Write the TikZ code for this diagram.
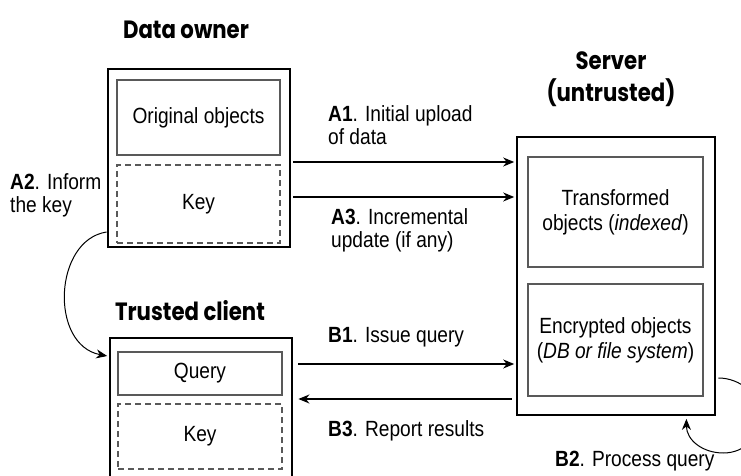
\documentclass[tikz,border=0pt]{standalone}
\usepackage{fontspec}
\setmainfont{Liberation Sans}[FakeStretch=0.87]
\newfontfamily\titlefont{Poppins}[FakeStretch=0.85]
\usetikzlibrary{arrows.meta,calc}

\begin{document}
\begin{tikzpicture}[x=1bp,y=-1bp,
  holder/.style={draw=black, line width=2.8bp, inner sep=0pt},
  part/.style={draw=black!65, line width=1.4bp, inner sep=0pt, align=center,
    font=\fontsize{22bp}{25bp}\selectfont},
  keypart/.style={part, dash pattern=on 6bp off 4bp},
  heading/.style={font=\titlefont\bfseries\fontsize{25bp}{32bp}\selectfont,
    align=center, inner sep=0pt},
  note/.style={font=\fontsize{22bp}{23bp}\selectfont, align=left,
    anchor=west, inner sep=0pt},
  link/.style={line width=1.3bp, -{Stealth[length=11bp,width=9bp,inset=3.5bp]}},
]
\useasboundingbox (0,0) rectangle (741,476);

% data owner
\node[holder, minimum width=182bp, minimum height=178bp] (owner) at (199,158) {};
\node[part, minimum width=163bp, minimum height=75bp] (orig) at (198.5,117.5) {Original objects};
\node[keypart, minimum width=163bp, minimum height=78bp] (okey) at (198.5,204) {Key};
\node[heading] (ownerT) at (186,30) {Data owner};

% server
\node[holder, minimum width=198bp, minimum height=278bp] (server) at (616,276) {};
\node[part, minimum width=175bp, minimum height=110bp] (trans) at (615.5,212)
  {Transformed\\objects (\textit{indexed})};
\node[part, minimum width=175bp, minimum height=112bp] (enc) at (615.5,340)
  {Encrypted objects\\(\textit{DB or file system})};
\node[heading] (serverT) at (611,79) {Server\\(untrusted)};

% trusted client
\node[holder, minimum width=182bp, minimum height=150bp] (client) at (201,413) {};
\node[part, minimum width=164bp, minimum height=43bp] (query) at (200,373.5) {Query};
\node[keypart, minimum width=164bp, minimum height=65bp] (ckey) at (200,436.5) {Key};
\node[heading] (clientT) at (190,311) {Trusted client};

% step labels
\node[note] (a1) at (328,125) {\textbf{A1}. Initial upload\\of data};
\node[note] (a3) at (331,230) {\textbf{A3}. Incremental\\update (if any)};
\node[note] (a2) at (10,195) {\textbf{A2}. Inform\\the key};
\node[note] (b1) at (328,337) {\textbf{B1}. Issue query};
\node[note] (b3) at (328,431) {\textbf{B3}. Report results};
\node[note] (b2) at (555,461) {\textbf{B2}. Process query};

% upload and update
\coordinate (a1s) at ($(owner.east)+(2,4)$);
\draw[link, shorten >=1.4bp] (a1s) -- (a1s -| server.west);
\coordinate (a3s) at ($(owner.east)+(2,39)$);
\draw[link, shorten >=1.4bp] (a3s) -- (a3s -| server.west);

% key handed to the client
\coordinate (a2s) at ($(owner.west)+(0,74)$);
\coordinate (a2e) at ($(client.west)+(-1.4,-57)$);
\draw[link, line width=1bp] (a2s) .. controls +(-53,8) and +(-58,-11) .. (a2e);

% query and results
\coordinate (b1s) at ($(client.east)+(5,-49)$);
\draw[link, shorten >=1.4bp] (b1s) -- (b1s -| server.west);
\coordinate (b3e) at ($(client.east)+(5,-14)$);
\draw[link, shorten <=4bp] (b3e -| server.west) -- (b3e);

% processing loop on the server
\coordinate (b2s) at ($(server.east)+(2,102)$);
\coordinate (b2e) at ($(server.south east)+(-30,2.5)$);
\draw[link, line width=1bp] (b2s) .. controls +(22,0) and +(0,-21) .. ++(42,38)
  .. controls +(0,21) and +(21,0) .. ++(-37,37)
  .. controls +(-21,0) and +(0,21) .. (b2e);
\end{tikzpicture}
\end{document}
